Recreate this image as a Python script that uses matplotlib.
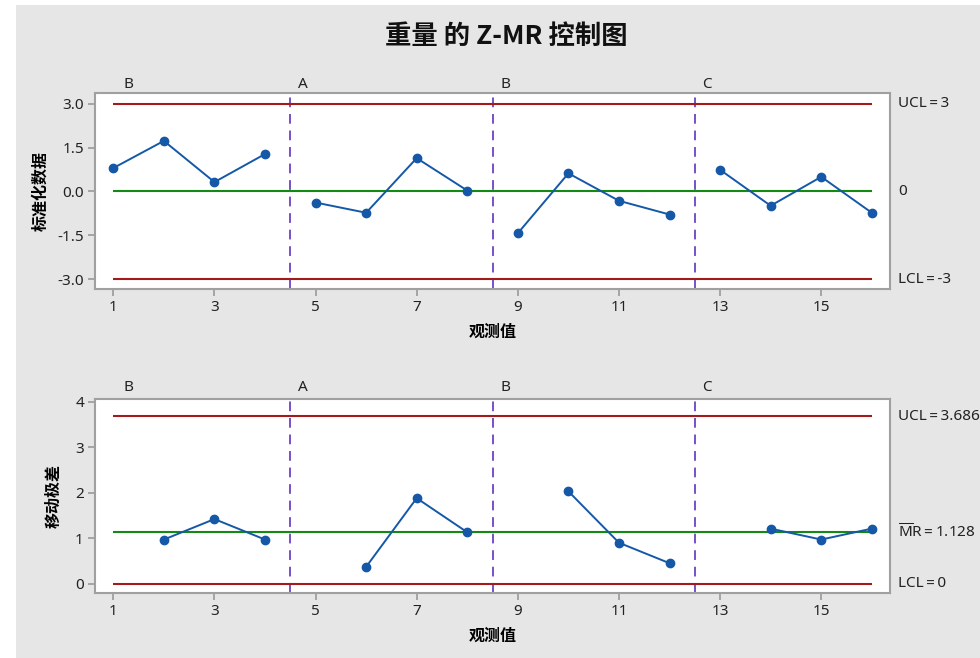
import matplotlib
matplotlib.use("Agg")
import matplotlib.pyplot as plt
from matplotlib.patches import Rectangle

plt.rcParams['font.family'] = ['Noto Sans CJK SC', 'DejaVu Sans']
plt.rcParams['mathtext.fontset'] = 'custom'
plt.rcParams['mathtext.rm'] = 'Noto Sans'

# Observations and standardized values
obs = list(range(1, 17))
z_values = [0.80, 1.73, 0.32, 1.28, -0.38, -0.73, 1.14, 0.03,
            -1.43, 0.62, -0.32, -0.79, 0.74, -0.49, 0.50, -0.73]

# Moving ranges (reset at each stage)
mr_obs = [2, 3, 4, 6, 7, 8, 10, 11, 12, 14, 15, 16]
mr_values = [0.97, 1.42, 0.97, 0.37, 1.88, 1.13, 2.03, 0.90, 0.45, 1.21, 0.97, 1.21]

# Stages
stage_names = ['B', 'A', 'B', 'C']
stage_starts = [1, 5, 9, 13]
stage_ends = [4, 8, 12, 16]
stage_label_x = [1.2, 4.65, 8.65, 12.65]
stage_breaks = [4.5, 8.5, 12.5]

# Control limits
z_ucl, z_center, z_lcl = 3, 0, -3
mr_ucl, mr_center, mr_lcl = 3.686, 1.128, 0

z_ticks = [3.0, 1.5, 0.0, -1.5, -3.0]
mr_ticks = [0, 1, 2, 3, 4]
x_ticks = [1, 3, 5, 7, 9, 11, 13, 15]

RED = '#a31a1a'
GREEN = '#138a13'
BLUE = '#1558a8'
PURPLE = '#7a4fc8'
SPINE = '#a0a0a0'
BG = '#e6e6e6'
TXT = '#222222'
LATIN = ['Noto Sans', 'DejaVu Sans']
EQ = '\u2009=\u2009'

fig = plt.figure(figsize=(9.8, 6.58), dpi=100)
fig.patch.set_facecolor('white')
fig.patches.append(Rectangle((16 / 980, 0), 1, 1 - 5 / 658, transform=fig.transFigure,
                             facecolor=BG, edgecolor='none', zorder=-10))

fig.text(0.517, 1 - 36 / 658, '重量 的 Z-MR 控制图', ha='center', va='center',
         fontsize=19, fontweight='bold', color='#111111')

ax1 = fig.add_axes([95 / 980, 1 - 289 / 658, 795 / 980, 196 / 658])
ax2 = fig.add_axes([95 / 980, 1 - 593 / 658, 795 / 980, 194 / 658])


def style_axes(ax):
    ax.set_facecolor('white')
    for s in ax.spines.values():
        s.set_color(SPINE)
        s.set_linewidth(1.5)
    ax.tick_params(direction='out', length=5, width=1.3, color=SPINE,
                   labelsize=11, labelcolor=TXT, pad=3)
    for lbl in ax.get_xticklabels() + ax.get_yticklabels():
        lbl.set_family(LATIN)
    ax.set_xlim(0.638, 16.36)
    ax.set_xticks(x_ticks)
    for b in stage_breaks:
        ax.axvline(b, color=PURPLE, linestyle=(0, (5, 3.5)), linewidth=1.4, zorder=1)


def stage_labels(ax, offset):
    for name, xv in zip(stage_names, stage_label_x):
        ax.annotate(name, xy=(xv, 1), xycoords=('data', 'axes fraction'),
                    xytext=(0, offset), textcoords='offset points',
                    ha='left', va='bottom', fontsize=11, color=TXT, family=LATIN)


def right_labels(ax, items):
    for val, txt in items:
        ax.annotate(txt, xy=(1, val), xycoords=('axes fraction', 'data'),
                    xytext=(6, 0), textcoords='offset points', ha='left', va='center',
                    fontsize=11, color=TXT, family=LATIN, annotation_clip=False)


# Standardized data chart
style_axes(ax1)
ax1.set_ylim(-3.34, 3.37)
ax1.set_yticks(z_ticks)
ax1.set_yticklabels([f'{t:.1f}' for t in z_ticks], family=LATIN)
ax1.set_xticklabels([str(t) for t in x_ticks], family=LATIN)
ax1.hlines([z_ucl, z_lcl], 1, 16, color=RED, linewidth=1.5, zorder=2)
ax1.hlines([z_center], 1, 16, color=GREEN, linewidth=1.5, zorder=2)
for s, e in zip(stage_starts, stage_ends):
    xs = obs[s - 1:e]
    ys = z_values[s - 1:e]
    ax1.plot(xs, ys, color=BLUE, linewidth=1.4, marker='o', markersize=6, zorder=3)
ax1.set_xlabel('观测值', fontsize=11.5, fontweight='bold', labelpad=6)
ax1.set_ylabel('标准化数据', fontsize=11.5, fontweight='bold', labelpad=6)
stage_labels(ax1, 1)
right_labels(ax1, [(z_ucl, f'UCL{EQ}3'), (z_center, '0'), (z_lcl, f'LCL{EQ}-3')])

# Moving range chart
style_axes(ax2)
ax2.set_ylim(-0.205, 4.06)
ax2.set_yticks(mr_ticks)
ax2.set_yticklabels([str(t) for t in mr_ticks], family=LATIN)
ax2.set_xticklabels([str(t) for t in x_ticks], family=LATIN)
ax2.hlines([mr_ucl, mr_lcl], 1, 16, color=RED, linewidth=1.5, zorder=2)
ax2.hlines([mr_center], 1, 16, color=GREEN, linewidth=1.5, zorder=2)
for k in range(4):
    xs = mr_obs[3 * k:3 * k + 3]
    ys = mr_values[3 * k:3 * k + 3]
    ax2.plot(xs, ys, color=BLUE, linewidth=1.4, marker='o', markersize=6, zorder=3)
ax2.set_xlabel('观测值', fontsize=11.5, fontweight='bold', labelpad=6)
ax2.set_ylabel('移动极差', fontsize=11.5, fontweight='bold', labelpad=10)
stage_labels(ax2, 3)
right_labels(ax2, [(mr_ucl, f'UCL{EQ}3.686'),
                   (mr_center, r'$\overline{\mathrm{M}}$R' + EQ + '1.128'),
                   (mr_lcl, f'LCL{EQ}0')])

fig.savefig('out.png', dpi=100, facecolor=fig.get_facecolor())
